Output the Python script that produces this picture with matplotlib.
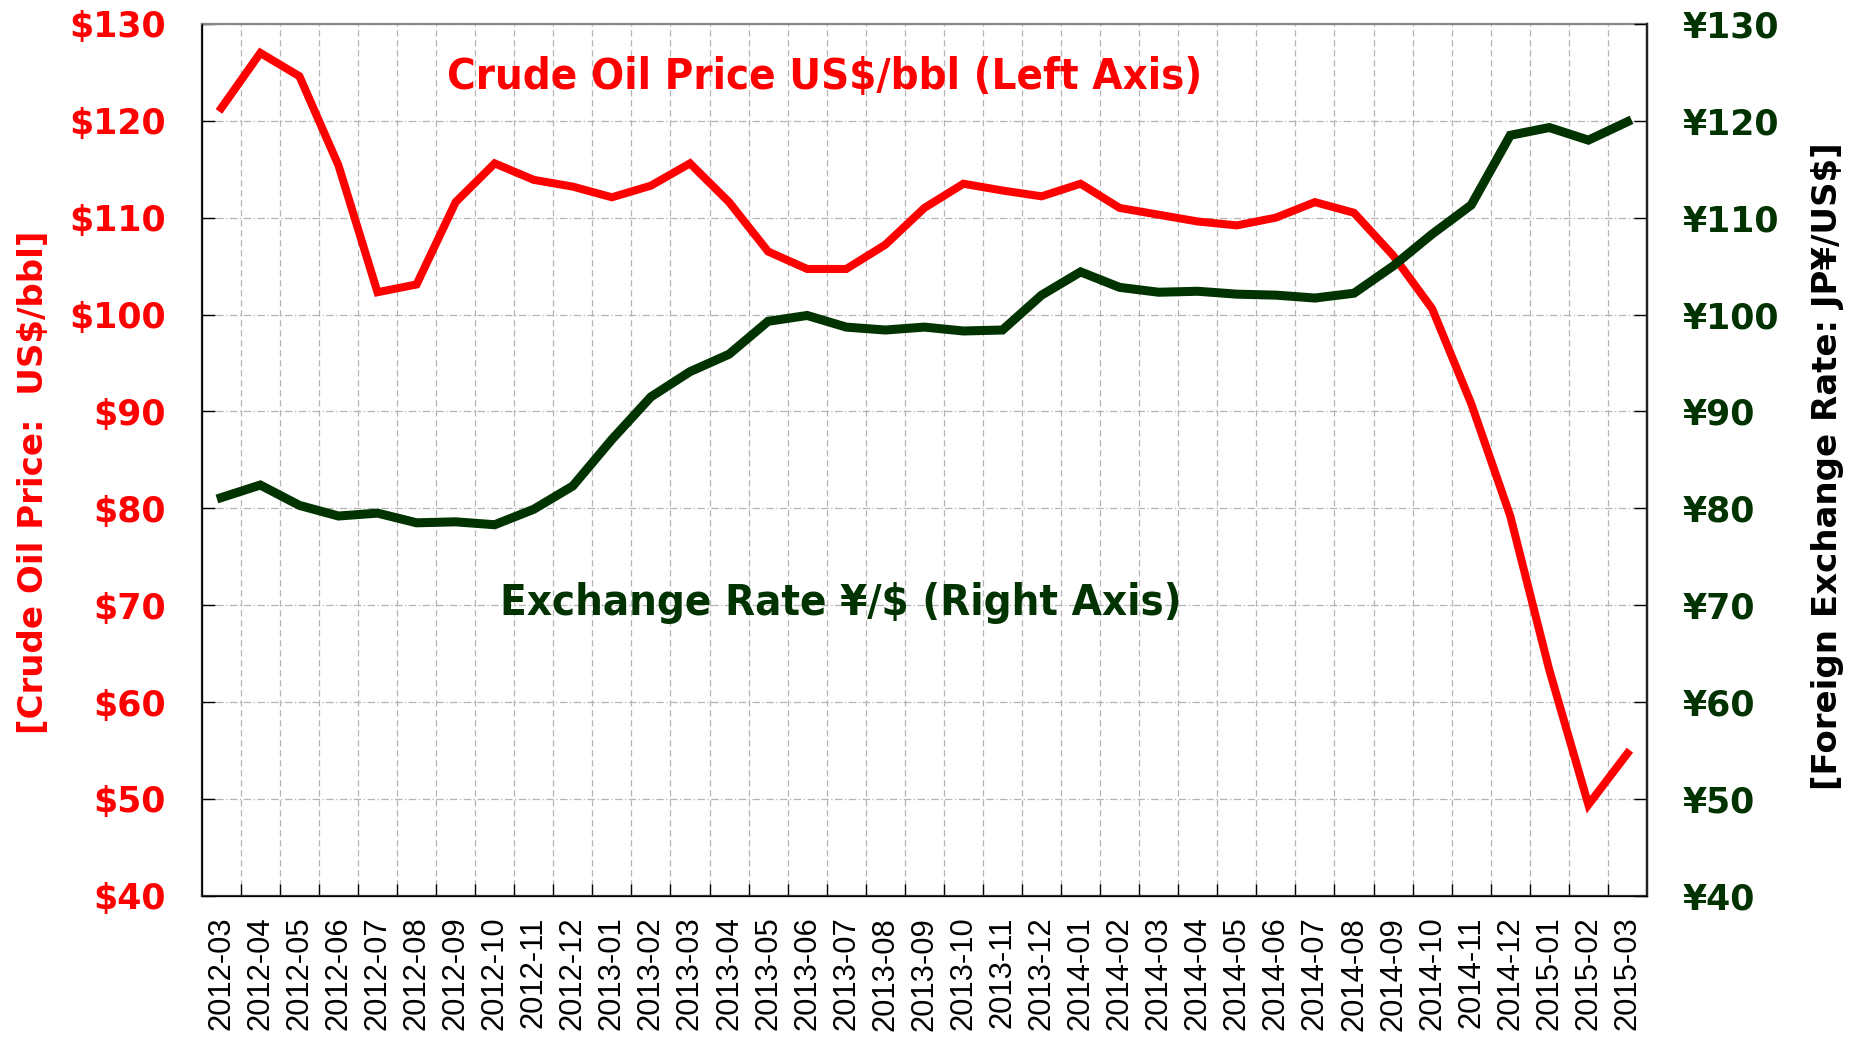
import matplotlib
matplotlib.use("Agg")
import matplotlib.pyplot as plt
from matplotlib.ticker import FixedLocator

# data
months = ['2012-03', '2012-04', '2012-05', '2012-06', '2012-07', '2012-08', '2012-09',
          '2012-10', '2012-11', '2012-12', '2013-01', '2013-02', '2013-03', '2013-04',
          '2013-05', '2013-06', '2013-07', '2013-08', '2013-09', '2013-10', '2013-11',
          '2013-12', '2014-01', '2014-02', '2014-03', '2014-04', '2014-05', '2014-06',
          '2014-07', '2014-08', '2014-09', '2014-10', '2014-11', '2014-12', '2015-01',
          '2015-02', '2015-03']
oil_price = [121.3, 127.0, 124.6, 115.4, 102.3, 103.1, 111.6, 115.6, 113.9, 113.2,
             112.1, 113.3, 115.6, 111.6, 106.5, 104.7, 104.7, 107.2, 111.0, 113.5,
             112.8, 112.2, 113.5, 111.0, 110.3, 109.6, 109.2, 110.0, 111.6, 110.5,
             106.1, 100.6, 90.8, 79.2, 63.3, 49.4, 54.7]
fx_rate = [81.1, 82.4, 80.3, 79.2, 79.5, 78.5, 78.6, 78.3, 79.9, 82.3,
           87.1, 91.5, 94.1, 95.9, 99.3, 99.9, 98.7, 98.4, 98.7, 98.3,
           98.4, 102.0, 104.4, 102.8, 102.3, 102.4, 102.1, 102.0, 101.7, 102.2,
           105.0, 108.3, 111.3, 118.5, 119.3, 118.0, 119.9]
price_ticks = [40, 50, 60, 70, 80, 90, 100, 110, 120, 130]

RED = '#ff0000'
GREEN = '#003300'
cond = ['DejaVu Sans Condensed', 'DejaVu Sans']

fig = plt.figure(figsize=(18.61, 10.38), dpi=100)
ax = fig.add_axes([0.1084, 0.137, 0.7766, 0.840])
ax2 = ax.twinx()

x = list(range(len(months)))
ax.plot(x, oil_price, color=RED, lw=5.8, solid_joinstyle='miter', zorder=3)
ax2.plot(x, fx_rate, color=GREEN, lw=6.5, solid_joinstyle='miter', zorder=3)

for a in (ax, ax2):
    a.set_ylim(40, 130)
    a.set_yticks(price_ticks)
    a.set_xlim(-0.5, len(months) - 0.5)

ax.set_yticklabels(['$%d' % v for v in price_ticks], color=RED, fontsize=25,
                   fontweight='bold', family='DejaVu Sans')
ax2.set_yticklabels(['¥%d' % v for v in price_ticks], color=GREEN, fontsize=25,
                    fontweight='bold', family='DejaVu Sans')
ax.tick_params(axis='y', direction='in', length=9.5, width=1, pad=26)
ax2.tick_params(axis='y', direction='in', length=9.5, width=1, pad=26)

# category labels centred, tick marks between categories
ax.set_xticks(x)
ax.set_xticklabels(months, rotation=90, fontsize=22.3, family='Liberation Sans')
ax.xaxis.set_minor_locator(FixedLocator([i + 0.5 for i in x[:-1]]))
ax.tick_params(axis='x', which='major', length=0, pad=15)
ax.tick_params(axis='x', which='minor', direction='in', length=8.5, width=1)

ax.grid(True, axis='y', color='#b4b4b4', lw=0.9, linestyle=(0, (6, 2, 1, 2)))
ax.grid(True, axis='x', which='minor', color='#b4b4b4', lw=0.9, linestyle=(0, (5, 3)))
ax.set_axisbelow(True)

ax.spines['top'].set_color('#888888')
ax.spines['left'].set_color('#222222')
ax.spines['bottom'].set_color('#333333')
ax2.spines['top'].set_visible(False)
for s in ax.spines.values():
    s.set_linewidth(1.6)
ax2.spines['right'].set_linewidth(1.6)
ax2.spines['right'].set_color('#222222')

ax.text(15.45, 124.5, 'Crude Oil Price US$/bbl (Left Axis)', color=RED, fontsize=31.3,
        fontweight='bold', fontstretch='condensed', family=cond,
        ha='center', va='center', zorder=5)
ax2.text(15.85, 70.2, 'Exchange Rate ¥/$ (Right Axis)', color=GREEN, fontsize=31.3,
         fontweight='bold', fontstretch='condensed', family=cond,
         ha='center', va='center', zorder=5)

fig.text(0.018, 0.535, '[Crude Oil Price:  US$/bbl]', color=RED, fontsize=24.5,
         fontweight='bold', rotation=90, ha='center', va='center')
fig.text(0.982, 0.551, '[Foreign Exchange Rate: JP¥/US$]', color='black', fontsize=24.5,
         fontweight='bold', rotation=90, ha='center', va='center')

fig.savefig('out.png', dpi=100)
